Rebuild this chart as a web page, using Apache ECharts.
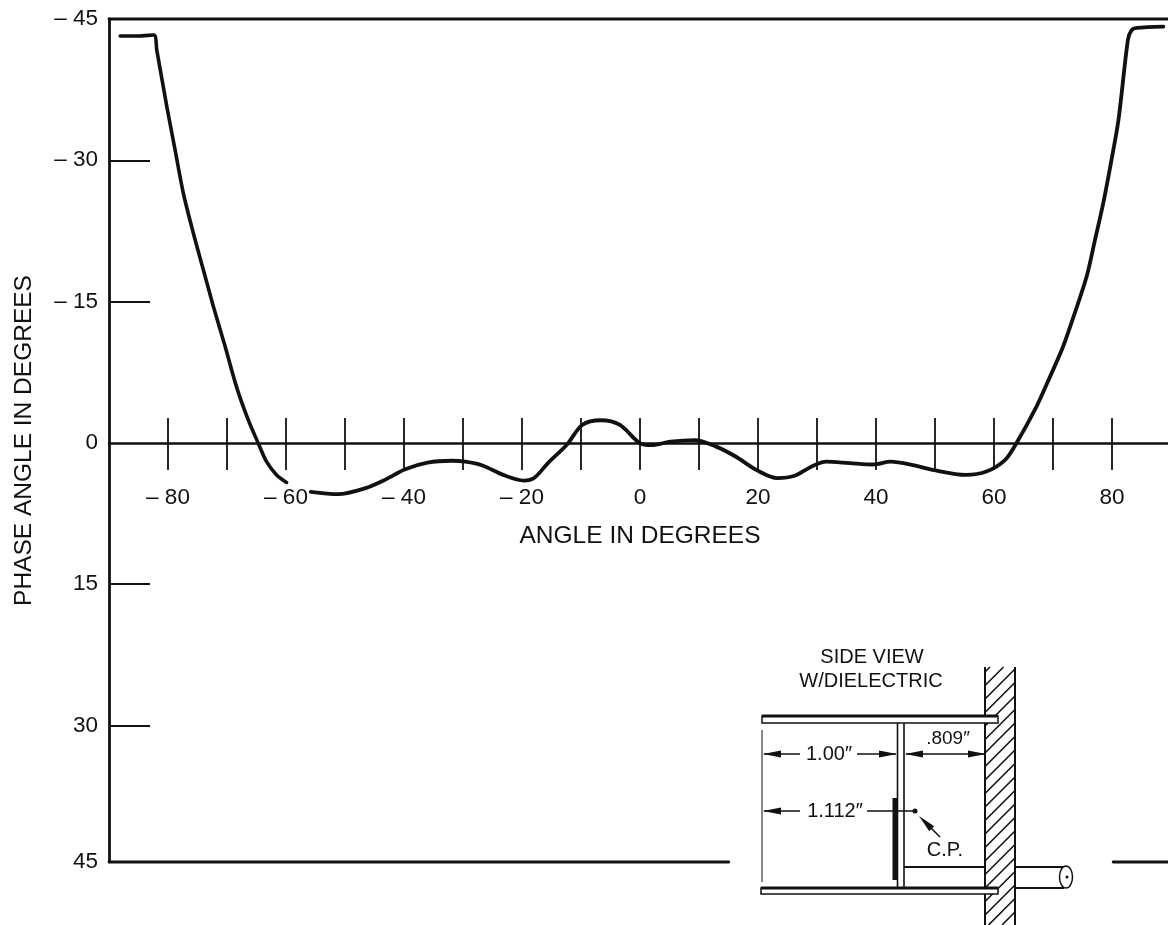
<!DOCTYPE html>
<html>
<head>
<meta charset="utf-8">
<title>Phase angle vs angle</title>
<script src="https://cdn.jsdelivr.net/npm/echarts@6/dist/echarts.min.js"></script>
<style>
  html, body { margin: 0; padding: 0; background: #fff; }
  #chart { width: 1168px; height: 925px; }
</style>
</head>
<body>
<div id="chart"></div>
<script>
// curve, [angle, phase]; the two pieces leave the gap around the "- 60" label
const curveLeft = [
  [-88.1, -43.2], [-85, -43.2], [-82.4, -43.3], [-81.9, -41.7], [-80.2, -35.7], [-78.8, -31.1], [-77.4, -26.5],
  [-75.7, -22.25], [-74, -18.35], [-72.3, -14.46], [-70.3, -10.2], [-68.4, -5.97], [-66.4, -2.43], [-64.7, 0.04],
  [-63.3, 2], [-61.6, 3.4], [-59.9, 4.2]
];
const curveMiddle = [
  [-55.8, 5.2], [-51.2, 5.45], [-46.5, 4.8], [-43, 3.85], [-39.8, 2.8], [-36, 2.1], [-32, 1.9], [-29.6, 2.0],
  [-26.7, 2.4], [-23.2, 3.4], [-19.7, 4.0], [-17.9, 3.7], [-15.6, 2.15], [-12.4, 0.2], [-9.8, -1.9], [-6.6, -2.4],
  [-3.4, -1.9], [-0.1, 0], [2, 0.25], [5.2, -0.14], [9.3, -0.3], [12.9, 0.4], [16.2, 1.45], [19.8, 2.9],
  [23.3, 3.75], [26.2, 3.5], [29.1, 2.5], [31.6, 2.0], [35.5, 2.15], [39.5, 2.3], [42.5, 2.0], [45.9, 2.3],
  [49.9, 2.9], [55.2, 3.4], [58.7, 3.05], [61.9, 1.8], [63.8, 0.04], [67.2, -3.84], [69.5, -7.03], [71.7, -10.2],
  [73.7, -13.8], [75.7, -17.65], [77.1, -21.5], [78.5, -25.4], [79.9, -30], [81.1, -34.3], [82.7, -42.8],
  [83.3, -43.8], [84.2, -44.05], [88.7, -44.2]
];
const xTicks = [-80, -70, -60, -50, -40, -30, -20, -10, 0, 10, 20, 30, 40, 50, 60, 70, 80];
const xLabels = [-80, -60, -40, -20, 0, 20, 40, 60, 80];
const yTicks = [-30, -15, 15, 30];
const yLabels = [-45, -30, -15, 0, 15, 30, 44.5];
// the printed bottom frame sits a bit short of a true 45
const yMin = -45;
const yMax = 44.5;
const topFrame = [[-90, yMin], [90, yMin]];
const bottomFrameLeft = [[-90, yMax], [15.05, yMax]];
const bottomFrameRight = [[80.2, yMax], [90, yMax]];

const ink = '#111';
const font = '"Liberation Sans", Arial, sans-serif';

function signed(v) {
  let n = Math.round(v / 5) * 5;
  return n < 0 ? '\u2013 ' + Math.abs(n) : String(n);
}

function lineSeries(data, width) {
  return {
    type: 'line',
    data: data,
    showSymbol: false,
    clip: false,
    silent: true,
    lineStyle: { color: ink, width: width, cap: 'round', join: 'round' }
  };
}

function seg(x1, y1, x2, y2, w) {
  return { type: 'line', shape: { x1, y1, x2, y2 }, style: { stroke: ink, lineWidth: w || 1.5 } };
}

function label(text, x, y, size) {
  return {
    type: 'text',
    x: x,
    y: y,
    style: { text: text, fill: ink, font: (size || 20) + 'px ' + font, align: 'center', verticalAlign: 'middle' }
  };
}

// small filled arrow head, tip at x,y, pointing along dx,dy
function head(x, y, dx, dy) {
  let len = Math.hypot(dx, dy);
  let ux = dx / len, uy = dy / len;
  let bx = x - ux * 18, by = y - uy * 18;
  return {
    type: 'polygon',
    shape: { points: [[x, y], [bx - uy * 3.5, by + ux * 3.5], [bx + uy * 3.5, by - ux * 3.5]] },
    style: { fill: ink }
  };
}

// side view sketch, sits in page pixels and has no data behind it
function insetSketch() {
  let els = [];
  // wall hatching, 45 degree lines cut to the wall box
  for (let c = 672; c < 955; c += 13.5) {
    let yLow = Math.min(c, 925);
    let yHigh = Math.max(c - 30, 667);
    els.push(seg(985 + (c - yLow), yLow, 985 + (c - yHigh), yHigh, 1.6));
  }
  els.push(seg(985, 667, 985, 925, 2));
  els.push(seg(1015, 667, 1015, 925, 2));

  // plates, run into the wall
  els.push({ type: 'rect', shape: { x: 762, y: 716, width: 236, height: 7 }, style: { fill: '#fff', stroke: ink, lineWidth: 1.5 } });
  els.push(seg(762, 716, 998, 716, 3));
  els.push({ type: 'rect', shape: { x: 761, y: 888, width: 237, height: 6 }, style: { fill: '#fff', stroke: ink, lineWidth: 1.5 } });
  els.push(seg(761, 888, 998, 888, 3));

  // dielectric, feed and probe
  els.push(seg(897.5, 723, 897.5, 888, 1.6));
  els.push(seg(904, 723, 904, 888, 1.6));
  els.push(seg(895, 798, 895, 880, 5));
  els.push(seg(904, 867, 985, 867, 2));
  els.push(seg(762, 730, 762, 882, 1));

  // coax stub
  els.push(seg(1015, 867, 1067, 867, 1.8));
  els.push(seg(1015, 888, 1064, 888, 1.8));
  els.push({ type: 'ellipse', shape: { cx: 1066, cy: 877, rx: 6.5, ry: 11 }, style: { fill: '#fff', stroke: ink, lineWidth: 1.5 } });
  els.push({ type: 'circle', shape: { cx: 1067, cy: 877, r: 1.5 }, style: { fill: ink } });

  // dimensions
  els.push(seg(764, 754, 800, 754, 1.6), head(763, 754, -1, 0));
  els.push(seg(857, 754, 896, 754, 1.6), head(897, 754, 1, 0));
  els.push(seg(906, 754, 985, 754, 1.6), head(905, 754, -1, 0), head(986, 754, 1, 0));
  els.push(seg(764, 811, 800, 811, 1.6), head(763, 811, -1, 0));
  els.push(seg(867, 811, 915, 811, 1.6));
  els.push({ type: 'circle', shape: { cx: 915, cy: 811, r: 2.5 }, style: { fill: ink } });
  els.push(seg(940, 837, 924, 821, 1.6), head(919, 816, -1, -1));

  els.push(label('SIDE VIEW', 872, 657));
  els.push(label('W/DIELECTRIC', 871, 681));
  els.push(label('1.00\u2033', 829, 754));
  els.push(label('.809\u2033', 948, 739, 19));
  els.push(label('1.112\u2033', 835, 811));
  els.push(label('C.P.', 945, 850));
  return els;
}

let chart = echarts.init(document.getElementById('chart'), null, { renderer: 'canvas' });
chart.setOption({
  animation: false,
  backgroundColor: '#fff',
  textStyle: { fontFamily: font, color: ink },
  // the second grid ends on phase 0, its x axes make the crossed scale with labels under it
  grid: [
    { left: 109, top: 19, width: 1062, height: 843, outerBoundsMode: 'none' },
    { left: 109, top: 19, width: 1062, height: 424, outerBoundsMode: 'none' }
  ],
  xAxis: [
    { type: 'value', gridIndex: 0, min: -90, max: 90, show: false },
    {
      type: 'value',
      gridIndex: 1,
      position: 'bottom',
      min: -90,
      max: 90,
      splitLine: { show: false },
      name: 'ANGLE IN DEGREES',
      nameLocation: 'middle',
      nameGap: 81,
      nameTextStyle: { color: ink, fontSize: 24.5, fontFamily: font },
      axisLine: { onZero: false, lineStyle: { color: ink, width: 2.5 } },
      axisTick: { length: 27, customValues: xTicks, lineStyle: { color: ink, width: 1.8 } },
      axisLabel: {
        customValues: xLabels,
        margin: 43,
        color: ink,
        fontSize: 22.5,
        fontFamily: font,
        formatter: signed
      }
    },
    {
      type: 'value',
      gridIndex: 1,
      position: 'bottom',
      min: -90,
      max: 90,
      splitLine: { show: false },
      axisLine: { show: false, onZero: false },
      axisTick: { inside: true, length: 25, customValues: xTicks, lineStyle: { color: ink, width: 1.8 } },
      axisLabel: { show: false }
    }
  ],
  yAxis: [
    {
      type: 'value',
      gridIndex: 0,
      inverse: true,
      min: yMin,
      max: yMax,
      splitLine: { show: false },
      name: 'PHASE ANGLE IN DEGREES',
      nameLocation: 'middle',
      nameRotate: 90,
      nameGap: 72,
      nameTextStyle: { color: ink, fontSize: 24.5, fontFamily: font },
      axisLine: { onZero: false, lineStyle: { color: ink, width: 2.8 } },
      axisTick: { inside: true, length: 41, customValues: yTicks, lineStyle: { color: ink, width: 2 } },
      axisLabel: {
        customValues: yLabels,
        margin: 11,
        color: ink,
        fontSize: 22.5,
        fontFamily: font,
        formatter: signed
      }
    },
    { type: 'value', gridIndex: 1, show: false }
  ],
  series: [
    lineSeries(topFrame, 2.8),
    lineSeries(bottomFrameLeft, 2.8),
    lineSeries(bottomFrameRight, 2.8),
    Object.assign(lineSeries(curveLeft, 3.6), { smooth: 0.3 }),
    Object.assign(lineSeries(curveMiddle, 3.8), { smooth: 0.3 })
  ],
  graphic: { elements: insetSketch() }
});
window.addEventListener('resize', () => {
  chart.resize();
});
</script>
</body>
</html>
